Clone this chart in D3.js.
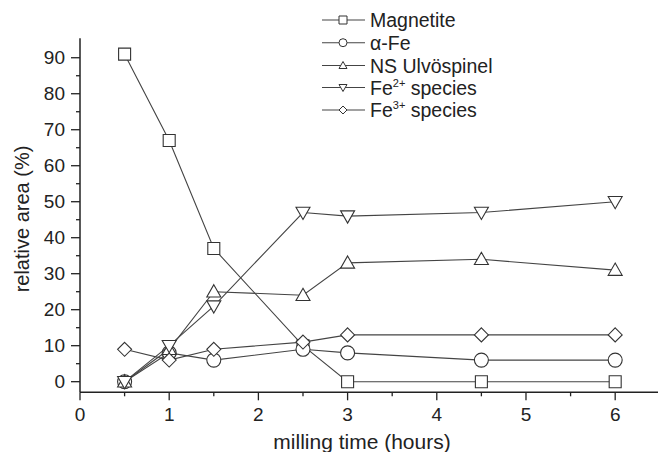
<!DOCTYPE html>
<html>
<head>
<meta charset="utf-8">
<script src="https://cdn.jsdelivr.net/npm/d3@7"></script>
<style>
  body { margin: 0; background: #fff; }
  text { font-family: "Liberation Sans", Arial, sans-serif; fill: #222; }
</style>
</head>
<body>
<div id="chart"></div>
<script>
var hours = [0.5, 1, 1.5, 2.5, 3, 4.5, 6];
var magnetite = [91, 67, 37, 10, 0, 0, 0];
var alphaFe = [0, 8, 6, 9, 8, 6, 6];
var ulvospinel = [0, 9, 25, 24, 33, 34, 31];
var fe2 = [0, 10, 21, 47, 46, 47, 50];
var fe3 = [9, 6, 9, 11, 13, 13, 13];
var xTicks = [0, 1, 2, 3, 4, 5, 6];
var yTicks = [0, 10, 20, 30, 40, 50, 60, 70, 80, 90];

var series = [
  {name: "Magnetite", sup: null, shape: "square", values: magnetite},
  {name: "α-Fe", sup: null, shape: "circle", values: alphaFe},
  {name: "NS Ulvöspinel", sup: null, shape: "triUp", values: ulvospinel},
  {name: "Fe", sup: "2+", rest: " species", shape: "triDown", values: fe2},
  {name: "Fe", sup: "3+", rest: " species", shape: "diamond", values: fe3}
];

var W = 658, H = 452;
var svg = d3.select("#chart").append("svg").attr("width", W).attr("height", H);

var x = d3.scaleLinear().domain([0, 6.48]).range([80, 658]);
var y = d3.scaleLinear().domain([-2.95, 95.4]).range([392.3, 38.3]);

function shapePath(shape, s) {
  var h = s / 2;
  if (shape === "square") return "M" + (-h) + "," + (-h) + "h" + s + "v" + s + "h" + (-s) + "Z";
  if (shape === "circle") return "M" + (-h) + ",0a" + h + "," + h + " 0 1,0 " + s + ",0a" + h + "," + h + " 0 1,0 " + (-s) + ",0Z";
  if (shape === "triUp") return "M0," + (-h) + "L" + h + "," + (h * 0.75) + "L" + (-h) + "," + (h * 0.75) + "Z";
  if (shape === "triDown") return "M0," + h + "L" + h + "," + (-h * 0.75) + "L" + (-h) + "," + (-h * 0.75) + "Z";
  if (shape === "diamond") return "M0," + (-h) + "L" + h + ",0L0," + h + "L" + (-h) + ",0Z";
}

// axes
var xAxis = svg.append("g").attr("transform", "translate(0," + y.range()[0] + ")");
xAxis.append("line").attr("x1", 80).attr("x2", 658).attr("stroke", "#222").attr("stroke-width", 1.5);
xAxis.selectAll("line.minor").data(d3.range(0.5, 6.5, 1)).enter().append("line")
  .attr("x1", d => x(d)).attr("x2", d => x(d)).attr("y1", 0).attr("y2", 4)
  .attr("stroke", "#222").attr("stroke-width", 1.3);
xAxis.selectAll("line.major").data(xTicks).enter().append("line")
  .attr("x1", d => x(d)).attr("x2", d => x(d)).attr("y1", 0).attr("y2", 8)
  .attr("stroke", "#222").attr("stroke-width", 1.3);
xAxis.selectAll("text").data(xTicks).enter().append("text")
  .attr("x", d => x(d)).attr("y", 29)
  .attr("text-anchor", "middle").style("font-size", "19px").text(d => d);

var yAxis = svg.append("g").attr("transform", "translate(80,0)");
yAxis.append("line").attr("y1", 38.3).attr("y2", 392.3).attr("stroke", "#222").attr("stroke-width", 1.5);
yAxis.selectAll("line.minor").data(d3.range(5, 95, 10)).enter().append("line")
  .attr("y1", d => y(d)).attr("y2", d => y(d)).attr("x1", 0).attr("x2", -4)
  .attr("stroke", "#222").attr("stroke-width", 1.3);
yAxis.selectAll("line.major").data(yTicks).enter().append("line")
  .attr("y1", d => y(d)).attr("y2", d => y(d)).attr("x1", 0).attr("x2", -9)
  .attr("stroke", "#222").attr("stroke-width", 1.3);
yAxis.selectAll("text").data(yTicks).enter().append("text")
  .attr("x", -15).attr("y", d => y(d)).attr("dy", "0.35em")
  .attr("text-anchor", "end").style("font-size", "19px").text(d => d);

svg.append("text").attr("x", 362).attr("y", 449)
  .attr("text-anchor", "middle").style("font-size", "21px").text("milling time (hours)");
svg.append("text").attr("transform", "translate(29,219) rotate(-90)")
  .attr("text-anchor", "middle").style("font-size", "20px").text("relative area (%)");

// series
var line = d3.line().x((d, i) => x(hours[i])).y(d => y(d));
series.forEach(function(s) {
  var g = svg.append("g");
  g.append("path").attr("d", line(s.values))
    .attr("fill", "none").attr("stroke", "#444").attr("stroke-width", 1.1);
  g.selectAll("path.m").data(s.values).enter().append("path")
    .attr("class", "m")
    .attr("transform", (d, i) => "translate(" + x(hours[i]) + "," + y(d) + ")")
    .attr("d", shapePath(s.shape, s.shape === "square" ? 12 : 14))
    .attr("fill", "#fff").attr("stroke", "#333").attr("stroke-width", 1.1);
});

// legend
var legY = [20, 42.7, 65.5, 87.5, 110];
var leg = svg.append("g");
series.forEach(function(s, i) {
  var gy = legY[i];
  leg.append("line").attr("x1", 322).attr("x2", 365).attr("y1", gy).attr("y2", gy)
    .attr("stroke", "#444").attr("stroke-width", 1.1);
  leg.append("path").attr("transform", "translate(343," + gy + ")")
    .attr("d", shapePath(s.shape, 8))
    .attr("fill", "#fff").attr("stroke", "#333").attr("stroke-width", 1);
  var t = leg.append("text").attr("x", 370).attr("y", gy + 7).style("font-size", "19.5px");
  t.append("tspan").text(s.name);
  if (s.sup) {
    t.append("tspan").attr("dy", -8).style("font-size", "11px").text(s.sup);
    t.append("tspan").attr("dy", 8).text(s.rest);
  }
});
</script>
</body>
</html>
